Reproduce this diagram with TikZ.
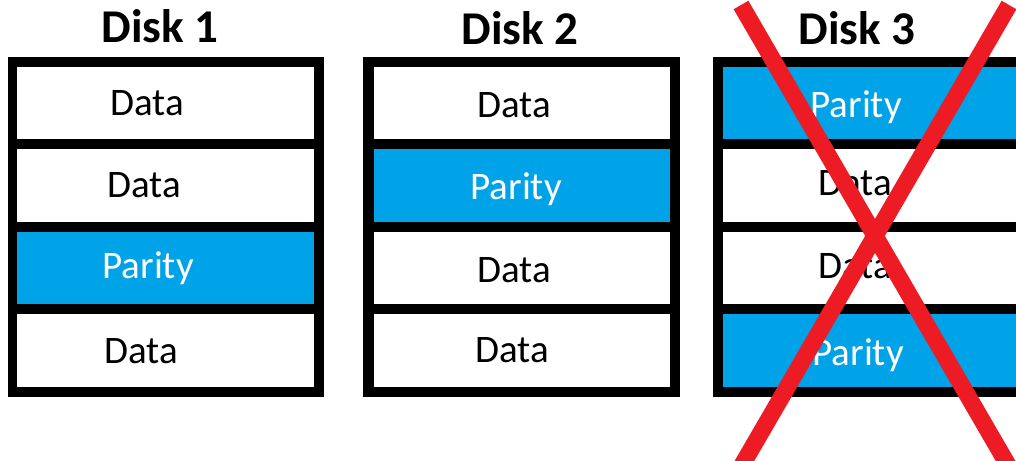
\documentclass[tikz,border=0pt]{standalone}
\usepackage{fontspec}
\setmainfont{Carlito}
\definecolor{parityblue}{RGB}{0,162,232}
\definecolor{crossred}{RGB}{237,28,36}
\begin{document}
\begin{tikzpicture}[x=1pt,y=-1pt,
  diskframe/.style={fill=black},
  datacell/.style={fill=white},
  paritycell/.style={fill=parityblue},
  disktitle/.style={anchor=base,inner sep=0pt,font=\fontsize{47}{50}\selectfont\bfseries},
  datatxt/.style={anchor=base,inner sep=0pt,text=black,font=\fontsize{39}{42}\selectfont},
  paritytxt/.style={anchor=base,inner sep=0pt,text=white,font=\fontsize{39}{42}\selectfont},
  crossline/.style={draw=crossred,line width=17pt}]
\useasboundingbox (0,0) rectangle (1016,460);
\clip (0,0) rectangle (1016,460);
\fill[white] (0,0) rectangle (1016,460);

% disk titles
\node[disktitle] (t1) at (160,43) {Disk 1};
\node[disktitle] (t2) at (520,45) {Disk 2};
\node[disktitle] (t3) at (857,45) {Disk 3};

% Disk 1
\path[diskframe] (8,57) rectangle (324,397);
\path[datacell]   (17,67)  rectangle (314,139);
\path[datacell]   (17,149) rectangle (314,222);
\path[paritycell] (17,232) rectangle (314,304);
\path[datacell]   (17,314) rectangle (314,387);
\node[datatxt]   (a1) at (147,115) {Data};
\node[datatxt]   (a2) at (144,197) {Data};
\node[paritytxt] (a3) at (148,278) {Parity};
\node[datatxt]   (a4) at (141,363) {Data};

% Disk 2
\path[diskframe] (363,57) rectangle (680,397);
\path[datacell]   (374,67)  rectangle (670,139);
\path[paritycell] (374,149) rectangle (670,222);
\path[datacell]   (374,232) rectangle (670,304);
\path[datacell]   (374,314) rectangle (670,387);
\node[datatxt]   (b1) at (514,117) {Data};
\node[paritytxt] (b2) at (516,199) {Parity};
\node[datatxt]   (b3) at (514,282) {Data};
\node[datatxt]   (b4) at (512,362) {Data};

% Disk 3 (failed)
\path[diskframe] (713,57) rectangle (1040,397);
\path[paritycell] (723,67)  rectangle (1040,139);
\path[datacell]   (723,149) rectangle (1040,222);
\path[datacell]   (723,232) rectangle (1040,304);
\path[paritycell] (723,314) rectangle (1040,387);
\node[paritytxt] (c1) at (856,117) {Parity};
\node[datatxt]   (c2) at (855,195) {Data};
\node[datatxt]   (c3) at (855,278) {Data};
\node[paritytxt] (c4) at (858,365) {Parity};

% red cross over Disk 3
\coordinate (x1s) at (741,5);
\coordinate (x1e) at (1012,472);
\coordinate (x2s) at (1009,5);
\coordinate (x2e) at (738,472);
\draw[crossline] (x1s) -- (x1e);
\draw[crossline] (x2s) -- (x2e);
\end{tikzpicture}
\end{document}
